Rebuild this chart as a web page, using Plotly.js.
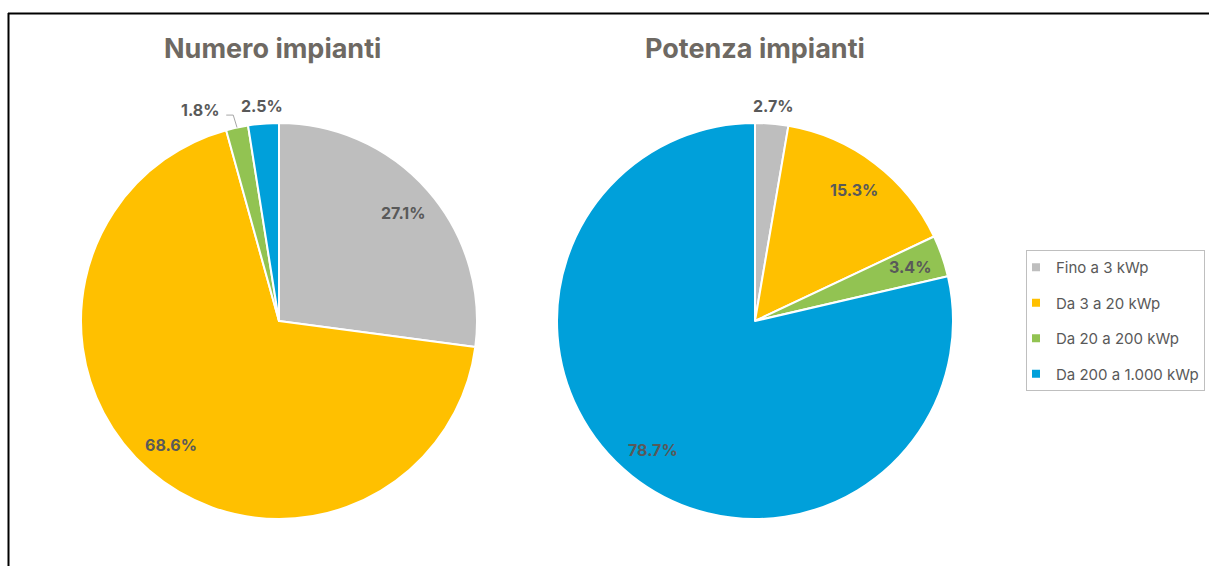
<!DOCTYPE html>
<html><head><meta charset="utf-8">
<script src="https://cdn.plot.ly/plotly-3.0.1.min.js"></script>
<style>html,body{margin:0;padding:0;background:#fff;}#chart{width:1209px;height:566px;}</style>
</head><body><div id="chart"></div>
<script>
const categories = ['Fino a 3 kWp', 'Da 3 a 20 kWp', 'Da 20 a 200 kWp', 'Da 200 a 1.000 kWp'];
const numeroImpianti = [27.1, 68.6, 1.8, 2.5];
const potenzaImpianti = [2.7, 15.3, 3.4, 78.7];
const chartTitles = ['Numero impianti', 'Potenza impianti'];
const colors = ['#BEBEBE', '#FFC000', '#92C352', '#00A0DA'];

const W = 1209, H = 566;
const FONT = 'Inter, "Open Sans", sans-serif';
const labelFont = {family: FONT, size: 16, color: '#595959', weight: 'bold'};
const R = 198, CY = 321;
const px = x => x / W, py = y => 1 - y / H;

const traces = [], annotations = [], shapes = [];

function addPie(values, cx, titleX, title, insideMask) {
  traces.push({
    type: 'pie', labels: categories, values: values, sort: false,
    direction: 'clockwise', rotation: 0, showlegend: false,
    marker: {colors: colors, line: {color: '#ffffff', width: 2}},
    textinfo: 'none', hoverinfo: 'label+percent',
    domain: {x: [px(cx - R), px(cx + R)], y: [py(CY + R), py(CY - R)]}
  });
  annotations.push({text: title, x: px(titleX), y: py(48), xref: 'paper', yref: 'paper',
    xanchor: 'center', yanchor: 'middle', showarrow: false,
    font: {family: FONT, size: 27, color: '#6E6963', weight: 'bold'}});
  const total = values.reduce((a, b) => a + b, 0);
  let cum = 0;
  const outside = [];
  values.forEach((v, i) => {
    const mid = (cum + v / 2) / total * 2 * Math.PI;
    cum += v;
    const inside = insideMask[i];
    const k = inside ? 0.83 : 1.09;
    const x = cx + k * R * Math.sin(mid), y = CY - k * R * Math.cos(mid);
    const lab = {text: v.toFixed(1) + '%', x: x, y: y, mid: mid};
    if (!inside) outside.push(lab);
    else annotations.push({text: lab.text, x: px(x), y: py(y), xref: 'paper', yref: 'paper',
      xanchor: 'center', yanchor: 'middle', showarrow: false, font: labelFont});
  });
  outside.forEach((lab, j) => {
    const next = outside[j + 1];
    let lx = lab.x;
    if (next && Math.abs(next.x - lab.x) < 40) {
      lx = lab.x - 33;
      const ex = cx + R * Math.sin(lab.mid), ey = CY - R * Math.cos(lab.mid);
      shapes.push({type: 'path', xref: 'paper', yref: 'paper',
        path: `M ${px(lx + 26)} ${py(lab.y + 5)} L ${px(lab.x)} ${py(lab.y + 5)} L ${px(ex)} ${py(ey)}`,
        line: {color: '#A6A6A6', width: 1}});
    }
    annotations.push({text: lab.text, x: px(lx), y: py(lab.y), xref: 'paper', yref: 'paper',
      xanchor: 'center', yanchor: 'middle', showarrow: false, font: labelFont});
  });
}

addPie(numeroImpianti, 279, 272, chartTitles[0], [true, true, false, false]);
addPie(potenzaImpianti, 755, 755, chartTitles[1], [false, true, true, true]);

categories.forEach((c, i) => traces.push({
  type: 'scatter', mode: 'markers', x: [null], y: [null], name: c,
  legendgroup: 'g' + i, showlegend: true, hoverinfo: 'skip',
  marker: {symbol: 'square', size: 8, color: colors[i]}
}));

shapes.push(
  {type: 'line', xref: 'paper', yref: 'paper', x0: px(8), x1: 1, y0: py(13.5), y1: py(13.5), line: {color: '#000', width: 2}},
  {type: 'line', xref: 'paper', yref: 'paper', x0: px(8.5), x1: px(8.5), y0: py(13), y1: 0, line: {color: '#000', width: 2}}
);

const layout = {
  width: W, height: H, margin: {l: 0, r: 0, t: 0, b: 0},
  paper_bgcolor: '#ffffff', plot_bgcolor: '#ffffff',
  xaxis: {visible: false}, yaxis: {visible: false},
  showlegend: true,
  legend: {
    x: px(1026), xanchor: 'left', y: py(250), yanchor: 'top',
    bordercolor: '#BFBFBF', borderwidth: 1, bgcolor: '#ffffff',
    font: {family: FONT, size: 15, color: '#595959'},
    tracegroupgap: 13, itemsizing: 'trace', indentation: -11
  },
  annotations: annotations,
  shapes: shapes
};
Plotly.newPlot('chart', traces, layout, {displayModeBar: false, staticPlot: true});
</script></body></html>
